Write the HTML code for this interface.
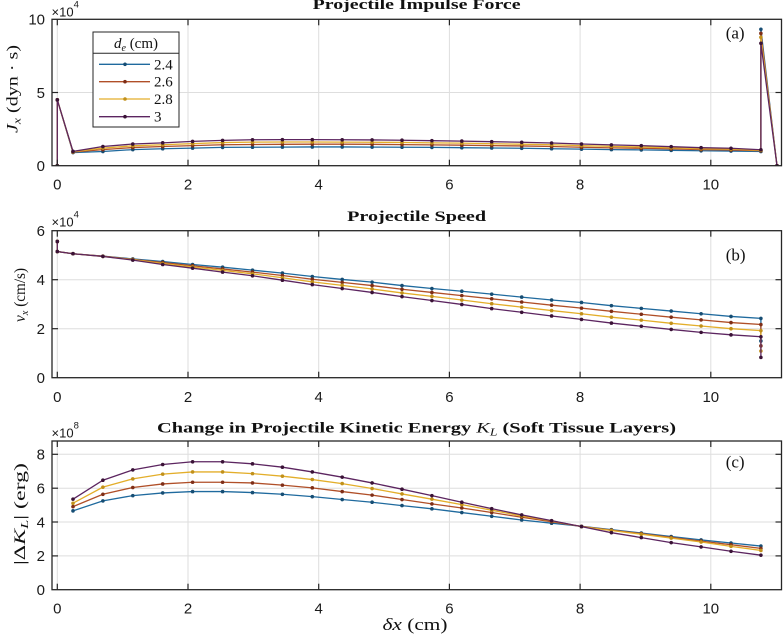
<!DOCTYPE html>
<html><head><meta charset="utf-8"><style>
html,body{margin:0;padding:0;background:#fff;}
svg{display:block;}
.tk{font-family:"Liberation Sans",sans-serif;font-size:15px;fill:#1a1a1a;}
.sr{font-family:"Liberation Serif",serif;fill:#111;}
</style></head><body>
<svg width="783" height="640" viewBox="0 0 783 640" xmlns="http://www.w3.org/2000/svg">
<defs>
<clipPath id="ca"><rect x="52" y="19.3" width="729.5" height="146.4"/></clipPath>
<clipPath id="cb"><rect x="52" y="230.7" width="729.5" height="147"/></clipPath>
<clipPath id="cc"><rect x="52" y="441" width="729.5" height="148.7"/></clipPath>
<marker id="ma1" markerUnits="userSpaceOnUse" overflow="visible" markerWidth="1" markerHeight="1" refX="0" refY="0"><ellipse cx="0" cy="0" rx="1.8" ry="0.123" fill="#164d73"/></marker>
<marker id="ma2" markerUnits="userSpaceOnUse" overflow="visible" markerWidth="1" markerHeight="1" refX="0" refY="0"><ellipse cx="0" cy="0" rx="1.8" ry="0.123" fill="#7e2e17"/></marker>
<marker id="ma3" markerUnits="userSpaceOnUse" overflow="visible" markerWidth="1" markerHeight="1" refX="0" refY="0"><ellipse cx="0" cy="0" rx="1.8" ry="0.123" fill="#c1901a"/></marker>
<marker id="ma4" markerUnits="userSpaceOnUse" overflow="visible" markerWidth="1" markerHeight="1" refX="0" refY="0"><ellipse cx="0" cy="0" rx="1.8" ry="0.123" fill="#3a1236"/></marker>
<marker id="mb1" markerUnits="userSpaceOnUse" overflow="visible" markerWidth="1" markerHeight="1" refX="0" refY="0"><ellipse cx="0" cy="0" rx="1.8" ry="0.0735" fill="#164d73"/></marker>
<marker id="mb2" markerUnits="userSpaceOnUse" overflow="visible" markerWidth="1" markerHeight="1" refX="0" refY="0"><ellipse cx="0" cy="0" rx="1.8" ry="0.0735" fill="#7e2e17"/></marker>
<marker id="mb3" markerUnits="userSpaceOnUse" overflow="visible" markerWidth="1" markerHeight="1" refX="0" refY="0"><ellipse cx="0" cy="0" rx="1.8" ry="0.0735" fill="#c1901a"/></marker>
<marker id="mb4" markerUnits="userSpaceOnUse" overflow="visible" markerWidth="1" markerHeight="1" refX="0" refY="0"><ellipse cx="0" cy="0" rx="1.8" ry="0.0735" fill="#3a1236"/></marker>
<marker id="mc1" markerUnits="userSpaceOnUse" overflow="visible" markerWidth="1" markerHeight="1" refX="0" refY="0"><ellipse cx="0" cy="0" rx="1.8" ry="0.1064" fill="#164d73"/></marker>
<marker id="mc2" markerUnits="userSpaceOnUse" overflow="visible" markerWidth="1" markerHeight="1" refX="0" refY="0"><ellipse cx="0" cy="0" rx="1.8" ry="0.1064" fill="#7e2e17"/></marker>
<marker id="mc3" markerUnits="userSpaceOnUse" overflow="visible" markerWidth="1" markerHeight="1" refX="0" refY="0"><ellipse cx="0" cy="0" rx="1.8" ry="0.1064" fill="#c1901a"/></marker>
<marker id="mc4" markerUnits="userSpaceOnUse" overflow="visible" markerWidth="1" markerHeight="1" refX="0" refY="0"><ellipse cx="0" cy="0" rx="1.8" ry="0.1064" fill="#3a1236"/></marker>
</defs>

<!-- ================= PANEL A ================= -->
<rect x="52" y="19.3" width="729.5" height="146.4" fill="#fff"/>
<g stroke="#dedede" stroke-width="1">
<line x1="57.3" y1="19.3" x2="57.3" y2="165.7"/><line x1="188" y1="19.3" x2="188" y2="165.7"/><line x1="318.7" y1="19.3" x2="318.7" y2="165.7"/><line x1="449.4" y1="19.3" x2="449.4" y2="165.7"/><line x1="580.1" y1="19.3" x2="580.1" y2="165.7"/><line x1="710.8" y1="19.3" x2="710.8" y2="165.7"/>
<line x1="52" y1="92.5" x2="781.5" y2="92.5"/>
</g>
<g clip-path="url(#ca)">
<g transform="translate(0,165.7) scale(1,-14.64)" fill="none" stroke-width="1.3">
<polyline vector-effect="non-scaling-stroke" stroke="#1f6a9e" marker-start="url(#ma1)" marker-mid="url(#ma1)" marker-end="url(#ma1)" points="57.3,0 57.3,4.5 73,0.90 102.9,0.97 132.8,1.10 162.7,1.16 192.6,1.20 222.6,1.25 252.5,1.26 282.4,1.27 312.3,1.28 342.2,1.28 372.1,1.27 402,1.26 431.9,1.25 461.8,1.23 491.7,1.21 521.7,1.19 551.6,1.16 581.5,1.13 611.4,1.10 641.3,1.08 671.2,1.05 701.1,1.02 731,1.00 760.9,0.97 760.9,9.32 777,0"/>
<polyline vector-effect="non-scaling-stroke" stroke="#b04f28" marker-start="url(#ma2)" marker-mid="url(#ma2)" marker-end="url(#ma2)" points="57.3,0 57.3,4.5 73,0.93 102.9,1.10 132.8,1.24 162.7,1.31 192.6,1.37 222.6,1.43 252.5,1.45 282.4,1.46 312.3,1.47 342.2,1.47 372.1,1.46 402,1.44 431.9,1.42 461.8,1.40 491.7,1.37 521.7,1.35 551.6,1.31 581.5,1.26 611.4,1.22 641.3,1.19 671.2,1.15 701.1,1.10 731,1.07 760.9,1.02 760.9,9.04 777,0"/>
<polyline vector-effect="non-scaling-stroke" stroke="#e3ae2a" marker-start="url(#ma3)" marker-mid="url(#ma3)" marker-end="url(#ma3)" points="57.3,0 57.3,4.5 73,0.95 102.9,1.20 132.8,1.36 162.7,1.43 192.6,1.51 222.6,1.58 252.5,1.61 282.4,1.62 312.3,1.62 342.2,1.61 372.1,1.60 402,1.59 431.9,1.56 461.8,1.54 491.7,1.50 521.7,1.47 551.6,1.43 581.5,1.37 611.4,1.32 641.3,1.28 671.2,1.22 701.1,1.16 731,1.13 760.9,1.05 760.9,8.77 777,0"/>
<polyline vector-effect="non-scaling-stroke" stroke="#5c2560" marker-start="url(#ma4)" marker-mid="url(#ma4)" marker-end="url(#ma4)" points="57.3,0 57.3,4.5 73,0.98 102.9,1.31 132.8,1.48 162.7,1.56 192.6,1.66 222.6,1.73 252.5,1.77 282.4,1.78 312.3,1.78 342.2,1.77 372.1,1.76 402,1.74 431.9,1.71 461.8,1.68 491.7,1.64 521.7,1.60 551.6,1.55 581.5,1.48 611.4,1.42 641.3,1.37 671.2,1.30 701.1,1.23 731,1.19 760.9,1.09 760.9,8.36 777,0"/>
</g>
</g>
<g stroke="#262626" stroke-width="1.2">
<line x1="57.3" y1="165.7" x2="57.3" y2="159.7"/><line x1="188" y1="165.7" x2="188" y2="159.7"/><line x1="318.7" y1="165.7" x2="318.7" y2="159.7"/><line x1="449.4" y1="165.7" x2="449.4" y2="159.7"/><line x1="580.1" y1="165.7" x2="580.1" y2="159.7"/><line x1="710.8" y1="165.7" x2="710.8" y2="159.7"/>
<line x1="57.3" y1="19.3" x2="57.3" y2="25.3"/><line x1="188" y1="19.3" x2="188" y2="25.3"/><line x1="318.7" y1="19.3" x2="318.7" y2="25.3"/><line x1="449.4" y1="19.3" x2="449.4" y2="25.3"/><line x1="580.1" y1="19.3" x2="580.1" y2="25.3"/><line x1="710.8" y1="19.3" x2="710.8" y2="25.3"/>
<line x1="52" y1="92.5" x2="58" y2="92.5"/><line x1="781.5" y1="92.5" x2="775.5" y2="92.5"/>
</g>
<rect x="52" y="19.3" width="729.5" height="146.4" fill="none" stroke="#262626" stroke-width="1.3"/>
<g class="tk" text-anchor="middle">
<text x="57.3" y="189.5">0</text><text x="188" y="189.5">2</text><text x="318.7" y="189.5">4</text><text x="449.4" y="189.5">6</text><text x="580.1" y="189.5">8</text><text x="710.8" y="189.5">10</text>
</g>
<g class="tk" text-anchor="end">
<text x="45" y="171">0</text><text x="45" y="97.8">5</text><text x="45" y="24.6">10</text>
</g>
<text x="51.5" y="16.5" font-family="Liberation Sans, sans-serif" font-size="13" fill="#1a1a1a">×10<tspan font-size="9.5" dy="-9">4</tspan></text>
<text x="416.6" y="9" text-anchor="middle" class="sr" font-weight="bold" font-size="15" textLength="208" lengthAdjust="spacingAndGlyphs">Projectile Impulse Force</text>
<text transform="translate(17.5,89) rotate(-90)" text-anchor="middle" class="sr" font-size="16" textLength="88" lengthAdjust="spacingAndGlyphs"><tspan font-style="italic">J</tspan><tspan font-style="italic" font-size="11" dy="3">x</tspan><tspan dy="-3"> (dyn · s)</tspan></text>
<text x="725.7" y="38.5" class="sr" font-size="17">(a)</text>

<!-- legend -->
<rect x="93" y="32" width="86" height="95" fill="#fff" stroke="#262626" stroke-width="1"/>
<line x1="93" y1="53.3" x2="179" y2="53.3" stroke="#262626" stroke-width="1"/>
<text x="136" y="47.8" text-anchor="middle" class="sr" font-size="15"><tspan font-style="italic">d</tspan><tspan font-style="italic" font-size="10" dy="3">e</tspan><tspan dy="-3"> (cm)</tspan></text>
<line x1="99" y1="64.3" x2="150" y2="64.3" stroke="#1f6a9e" stroke-width="1.3"/><circle cx="125" cy="64.3" r="1.8" fill="#164d73"/>
<line x1="99" y1="81.7" x2="150" y2="81.7" stroke="#b04f28" stroke-width="1.3"/><circle cx="125" cy="81.7" r="1.8" fill="#7e2e17"/>
<line x1="99" y1="99" x2="150" y2="99" stroke="#e3ae2a" stroke-width="1.3"/><circle cx="125" cy="99" r="1.8" fill="#c1901a"/>
<line x1="99" y1="116.7" x2="150" y2="116.7" stroke="#5c2560" stroke-width="1.3"/><circle cx="125" cy="116.7" r="1.8" fill="#3a1236"/>
<g class="sr" font-size="15">
<text x="154" y="69.3">2.4</text><text x="154" y="86.7">2.6</text><text x="154" y="104">2.8</text><text x="154" y="121.7">3</text>
</g>

<!-- ================= PANEL B ================= -->
<rect x="52" y="230.7" width="729.5" height="147" fill="#fff"/>
<g stroke="#dedede" stroke-width="1">
<line x1="57.3" y1="230.7" x2="57.3" y2="377.7"/><line x1="188" y1="230.7" x2="188" y2="377.7"/><line x1="318.7" y1="230.7" x2="318.7" y2="377.7"/><line x1="449.4" y1="230.7" x2="449.4" y2="377.7"/><line x1="580.1" y1="230.7" x2="580.1" y2="377.7"/><line x1="710.8" y1="230.7" x2="710.8" y2="377.7"/>
<line x1="52" y1="279.7" x2="781.5" y2="279.7"/><line x1="52" y1="328.7" x2="781.5" y2="328.7"/>
</g>
<g clip-path="url(#cb)">
<g transform="translate(0,377.7) scale(1,-24.5)" fill="none" stroke-width="1.3">
<polyline vector-effect="non-scaling-stroke" stroke="#1f6a9e" marker-start="url(#mb1)" marker-mid="url(#mb1)" marker-end="url(#mb1)" points="57.3,5.56 57.3,5.15 73,5.06 102.9,4.96 132.8,4.85 162.7,4.74 192.6,4.62 222.6,4.51 252.5,4.39 282.4,4.27 312.3,4.13 342.2,4.01 372.1,3.90 402,3.76 431.9,3.64 461.8,3.53 491.7,3.41 521.7,3.29 551.6,3.17 581.5,3.07 611.4,2.94 641.3,2.83 671.2,2.72 701.1,2.61 731,2.50 760.9,2.42 760.9,1.50"/>
<polyline vector-effect="non-scaling-stroke" stroke="#b04f28" marker-start="url(#mb2)" marker-mid="url(#mb2)" marker-end="url(#mb2)" points="57.3,5.56 57.3,5.15 73,5.06 102.9,4.96 132.8,4.83 162.7,4.70 192.6,4.57 222.6,4.44 252.5,4.31 282.4,4.17 312.3,4.02 342.2,3.89 372.1,3.76 402,3.61 431.9,3.48 461.8,3.35 491.7,3.22 521.7,3.09 551.6,2.96 581.5,2.84 611.4,2.71 641.3,2.59 671.2,2.47 701.1,2.36 731,2.25 760.9,2.17 760.9,1.30"/>
<polyline vector-effect="non-scaling-stroke" stroke="#e3ae2a" marker-start="url(#mb3)" marker-mid="url(#mb3)" marker-end="url(#mb3)" points="57.3,5.56 57.3,5.15 73,5.06 102.9,4.95 132.8,4.82 162.7,4.66 192.6,4.52 222.6,4.38 252.5,4.24 282.4,4.08 312.3,3.91 342.2,3.77 372.1,3.62 402,3.46 431.9,3.32 461.8,3.17 491.7,3.02 521.7,2.88 551.6,2.74 581.5,2.61 611.4,2.47 641.3,2.35 671.2,2.22 701.1,2.11 731,2.00 760.9,1.92 760.9,1.09"/>
<polyline vector-effect="non-scaling-stroke" stroke="#5c2560" marker-start="url(#mb4)" marker-mid="url(#mb4)" marker-end="url(#mb4)" points="57.3,5.56 57.3,5.15 73,5.06 102.9,4.95 132.8,4.80 162.7,4.62 192.6,4.47 222.6,4.31 252.5,4.16 282.4,3.98 312.3,3.80 342.2,3.64 372.1,3.48 402,3.31 431.9,3.15 461.8,2.99 491.7,2.82 521.7,2.67 551.6,2.52 581.5,2.38 611.4,2.23 641.3,2.10 671.2,1.97 701.1,1.85 731,1.75 760.9,1.67 760.9,0.83"/>
</g>
</g>
<g stroke="#262626" stroke-width="1.2">
<line x1="57.3" y1="377.7" x2="57.3" y2="371.7"/><line x1="188" y1="377.7" x2="188" y2="371.7"/><line x1="318.7" y1="377.7" x2="318.7" y2="371.7"/><line x1="449.4" y1="377.7" x2="449.4" y2="371.7"/><line x1="580.1" y1="377.7" x2="580.1" y2="371.7"/><line x1="710.8" y1="377.7" x2="710.8" y2="371.7"/>
<line x1="57.3" y1="230.7" x2="57.3" y2="236.7"/><line x1="188" y1="230.7" x2="188" y2="236.7"/><line x1="318.7" y1="230.7" x2="318.7" y2="236.7"/><line x1="449.4" y1="230.7" x2="449.4" y2="236.7"/><line x1="580.1" y1="230.7" x2="580.1" y2="236.7"/><line x1="710.8" y1="230.7" x2="710.8" y2="236.7"/>
<line x1="52" y1="279.7" x2="58" y2="279.7"/><line x1="781.5" y1="279.7" x2="775.5" y2="279.7"/>
<line x1="52" y1="328.7" x2="58" y2="328.7"/><line x1="781.5" y1="328.7" x2="775.5" y2="328.7"/>
</g>
<rect x="52" y="230.7" width="729.5" height="147" fill="none" stroke="#262626" stroke-width="1.3"/>
<g class="tk" text-anchor="middle">
<text x="57.3" y="402">0</text><text x="188" y="402">2</text><text x="318.7" y="402">4</text><text x="449.4" y="402">6</text><text x="580.1" y="402">8</text><text x="710.8" y="402">10</text>
</g>
<g class="tk" text-anchor="end">
<text x="45" y="383">0</text><text x="45" y="334">2</text><text x="45" y="285">4</text><text x="45" y="236">6</text>
</g>
<text x="51.5" y="226.7" font-family="Liberation Sans, sans-serif" font-size="13" fill="#1a1a1a">×10<tspan font-size="9.5" dy="-9">4</tspan></text>
<text x="416.6" y="221" text-anchor="middle" class="sr" font-weight="bold" font-size="15" textLength="139" lengthAdjust="spacingAndGlyphs">Projectile Speed</text>
<text transform="translate(24.8,295) rotate(-90)" text-anchor="middle" class="sr" font-size="16" textLength="54" lengthAdjust="spacingAndGlyphs"><tspan font-style="italic">v</tspan><tspan font-style="italic" font-size="11" dy="3">x</tspan><tspan dy="-3"> (cm/s)</tspan></text>
<text x="725.7" y="260.5" class="sr" font-size="17">(b)</text>

<!-- ================= PANEL C ================= -->
<rect x="52" y="441" width="729.5" height="148.7" fill="#fff"/>
<g stroke="#dedede" stroke-width="1">
<line x1="57.3" y1="441" x2="57.3" y2="589.7"/><line x1="188" y1="441" x2="188" y2="589.7"/><line x1="318.7" y1="441" x2="318.7" y2="589.7"/><line x1="449.4" y1="441" x2="449.4" y2="589.7"/><line x1="580.1" y1="441" x2="580.1" y2="589.7"/><line x1="710.8" y1="441" x2="710.8" y2="589.7"/>
<line x1="52" y1="454.3" x2="781.5" y2="454.3"/><line x1="52" y1="488.2" x2="781.5" y2="488.2"/><line x1="52" y1="522" x2="781.5" y2="522"/><line x1="52" y1="555.9" x2="781.5" y2="555.9"/>
</g>
<g clip-path="url(#cc)">
<g transform="translate(0,589.7) scale(1,-16.92)" fill="none" stroke-width="1.3">
<polyline vector-effect="non-scaling-stroke" stroke="#1f6a9e" marker-start="url(#mc1)" marker-mid="url(#mc1)" marker-end="url(#mc1)" points="73,4.66 102.9,5.25 132.8,5.56 162.7,5.72 192.6,5.80 222.6,5.80 252.5,5.74 282.4,5.64 312.3,5.50 342.2,5.33 372.1,5.17 402,4.97 431.9,4.78 461.8,4.56 491.7,4.34 521.7,4.12 551.6,3.93 581.5,3.75 611.4,3.55 641.3,3.35 671.2,3.14 701.1,2.94 731,2.76 760.9,2.58"/>
<polyline vector-effect="non-scaling-stroke" stroke="#b04f28" marker-start="url(#mc2)" marker-mid="url(#mc2)" marker-end="url(#mc2)" points="73,4.91 102.9,5.64 132.8,6.04 162.7,6.25 192.6,6.35 222.6,6.35 252.5,6.31 282.4,6.18 312.3,6.02 342.2,5.80 372.1,5.59 402,5.33 431.9,5.07 461.8,4.83 491.7,4.56 521.7,4.28 551.6,4.02 581.5,3.74 611.4,3.52 641.3,3.31 671.2,3.09 701.1,2.87 731,2.66 760.9,2.44"/>
<polyline vector-effect="non-scaling-stroke" stroke="#e3ae2a" marker-start="url(#mc3)" marker-mid="url(#mc3)" marker-end="url(#mc3)" points="73,5.11 102.9,6.06 132.8,6.55 162.7,6.83 192.6,6.96 222.6,6.96 252.5,6.86 282.4,6.71 312.3,6.51 342.2,6.27 372.1,5.98 402,5.66 431.9,5.35 461.8,5.03 491.7,4.70 521.7,4.36 551.6,4.07 581.5,3.73 611.4,3.50 641.3,3.28 671.2,3.05 701.1,2.82 731,2.56 760.9,2.32"/>
<polyline vector-effect="non-scaling-stroke" stroke="#5c2560" marker-start="url(#mc4)" marker-mid="url(#mc4)" marker-end="url(#mc4)" points="73,5.35 102.9,6.47 132.8,7.08 162.7,7.40 192.6,7.56 222.6,7.56 252.5,7.44 282.4,7.24 312.3,6.96 342.2,6.65 372.1,6.31 402,5.94 431.9,5.56 461.8,5.17 491.7,4.79 521.7,4.42 551.6,4.08 581.5,3.73 611.4,3.37 641.3,3.08 671.2,2.78 701.1,2.53 731,2.27 760.9,2.04"/>
</g>
</g>
<g stroke="#262626" stroke-width="1.2">
<line x1="57.3" y1="589.7" x2="57.3" y2="583.7"/><line x1="188" y1="589.7" x2="188" y2="583.7"/><line x1="318.7" y1="589.7" x2="318.7" y2="583.7"/><line x1="449.4" y1="589.7" x2="449.4" y2="583.7"/><line x1="580.1" y1="589.7" x2="580.1" y2="583.7"/><line x1="710.8" y1="589.7" x2="710.8" y2="583.7"/>
<line x1="57.3" y1="441" x2="57.3" y2="447"/><line x1="188" y1="441" x2="188" y2="447"/><line x1="318.7" y1="441" x2="318.7" y2="447"/><line x1="449.4" y1="441" x2="449.4" y2="447"/><line x1="580.1" y1="441" x2="580.1" y2="447"/><line x1="710.8" y1="441" x2="710.8" y2="447"/>
<line x1="52" y1="454.3" x2="58" y2="454.3"/><line x1="781.5" y1="454.3" x2="775.5" y2="454.3"/>
<line x1="52" y1="488.2" x2="58" y2="488.2"/><line x1="781.5" y1="488.2" x2="775.5" y2="488.2"/>
<line x1="52" y1="522" x2="58" y2="522"/><line x1="781.5" y1="522" x2="775.5" y2="522"/>
<line x1="52" y1="555.9" x2="58" y2="555.9"/><line x1="781.5" y1="555.9" x2="775.5" y2="555.9"/>
</g>
<rect x="52" y="441" width="729.5" height="148.7" fill="none" stroke="#262626" stroke-width="1.3"/>
<g class="tk" text-anchor="middle">
<text x="57.3" y="613.5">0</text><text x="188" y="613.5">2</text><text x="318.7" y="613.5">4</text><text x="449.4" y="613.5">6</text><text x="580.1" y="613.5">8</text><text x="710.8" y="613.5">10</text>
</g>
<g class="tk" text-anchor="end">
<text x="45" y="595">0</text><text x="45" y="561.2">2</text><text x="45" y="527.3">4</text><text x="45" y="493.5">6</text><text x="45" y="459.6">8</text>
</g>
<text x="51.5" y="437.7" font-family="Liberation Sans, sans-serif" font-size="13" fill="#1a1a1a">×10<tspan font-size="9.5" dy="-9">8</tspan></text>
<text x="416.5" y="432.5" text-anchor="middle" class="sr" font-weight="bold" font-size="15" textLength="519" lengthAdjust="spacingAndGlyphs">Change in Projectile Kinetic Energy <tspan font-style="italic" font-weight="normal">K</tspan><tspan font-style="italic" font-weight="normal" font-size="10" dy="3">L</tspan><tspan dy="-3"> (Soft Tissue Layers)</tspan></text>
<text transform="translate(25,514) rotate(-90)" text-anchor="middle" class="sr" font-size="16" textLength="102" lengthAdjust="spacingAndGlyphs">|Δ<tspan font-style="italic">K</tspan><tspan font-style="italic" font-size="11" dy="3">L</tspan><tspan dy="-3">| (erg)</tspan></text>
<text x="725.7" y="467.5" class="sr" font-size="17">(c)</text>

<text x="415" y="630" text-anchor="middle" class="sr" font-size="17" textLength="65" lengthAdjust="spacingAndGlyphs"><tspan font-style="italic">δx</tspan> (cm)</text>
</svg>
</body></html>
